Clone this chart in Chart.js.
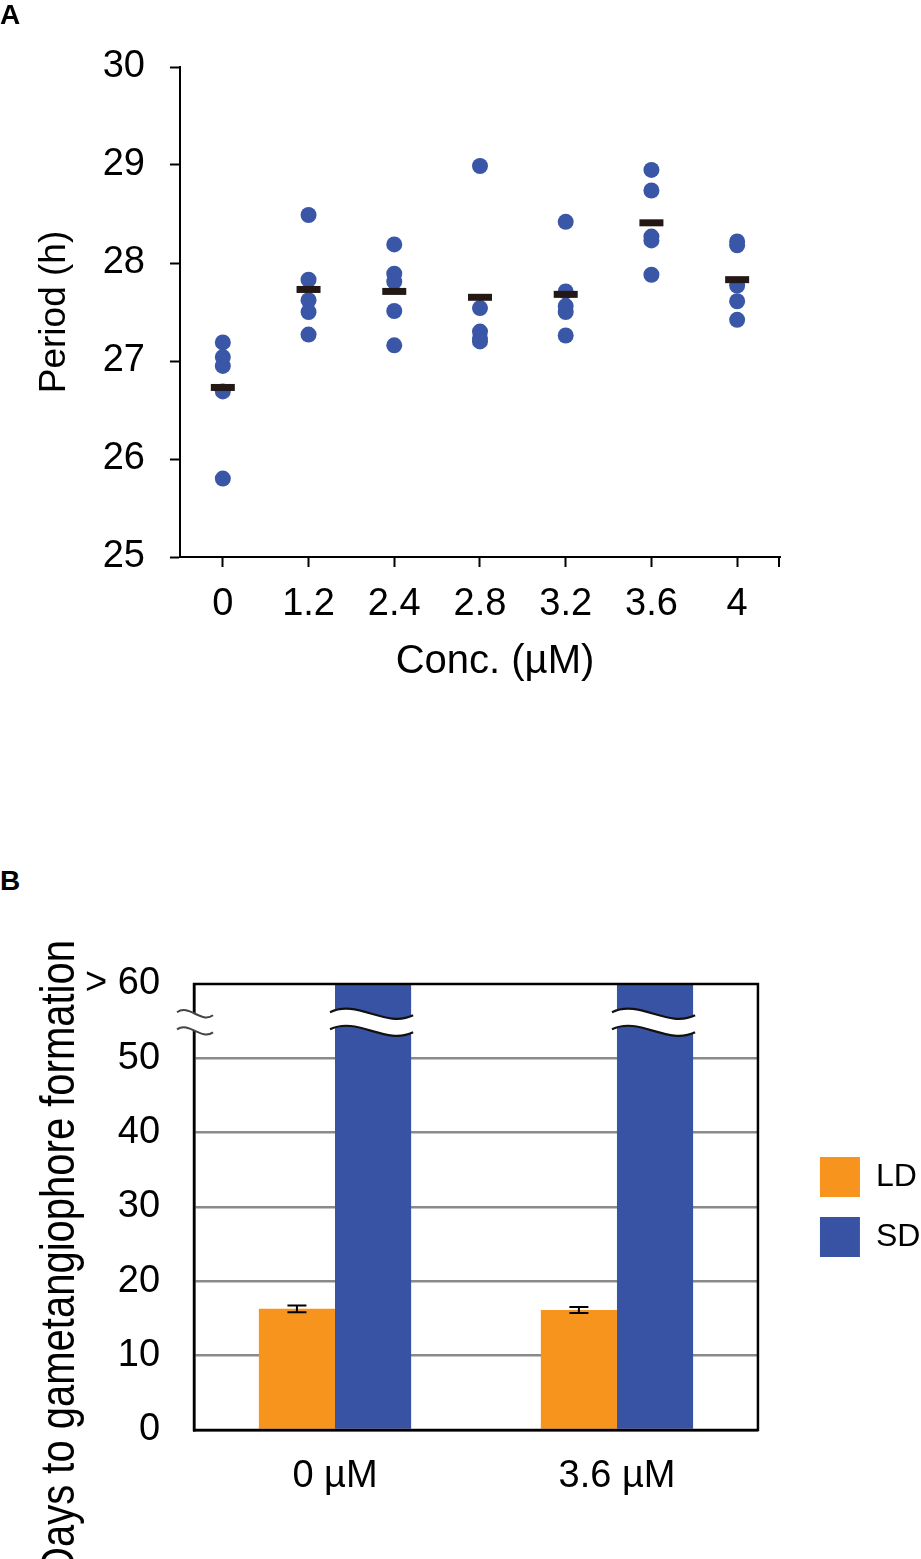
<!DOCTYPE html>
<html><head><meta charset="utf-8">
<script src="https://cdn.jsdelivr.net/npm/chart.js@4.4.1/dist/chart.umd.min.js"></script>
<style>
html,body{margin:0;padding:0;background:#fff;overflow:hidden;width:921px;height:1559px;}
#wrapA{position:absolute;left:0;top:0;width:921px;height:720px;}
#wrapB{position:absolute;left:0;top:900px;width:921px;height:659px;}
.pl{position:absolute;left:0;z-index:5;font-family:"Liberation Sans",Arial,sans-serif;font-weight:bold;font-size:28px;line-height:28px;color:#000;}
</style></head><body>
<div id="wrapA"><canvas id="cA" width="921" height="720"></canvas></div>
<div id="wrapB"><canvas id="cB" width="921" height="659"></canvas></div>
<div class="pl" style="top:1px">A</div>
<div class="pl" style="top:867px">B</div>
<script>
// ---------- Panel A data ----------
const concLabels = ['0', '1.2', '2.4', '2.8', '3.2', '3.6', '4'];
const periodAt0   = [27.19, 27.04, 26.95, 26.69, 25.80];
const periodAt1_2 = [28.49, 27.83, 27.62, 27.50, 27.27];
const periodAt2_4 = [28.19, 27.89, 27.81, 27.51, 27.16];
const periodAt2_8 = [28.99, 27.54, 27.30, 27.23, 27.20];
const periodAt3_2 = [28.42, 27.71, 27.56, 27.50, 27.26];
const periodAt3_6 = [28.95, 28.74, 28.27, 28.23, 27.88];
const periodAt4   = [28.22, 28.18, 27.77, 27.61, 27.42];
const periodMeans = [26.73, 27.73, 27.71, 27.65, 27.68, 28.41, 27.83];
const periodTitle = 'Period (h)';
const concTitle = 'Conc. (\u00b5M)';

// ---------- Panel B data ----------
const groupLabels = ['0 \u00b5M', '3.6 \u00b5M'];
const ldDays = [16.3, 16.15];
const ldErr  = [0.45, 0.40];
const sdDays = [60, 60];           // > 60 days (off-scale, drawn to axis top with break)
const daysTitle = 'Days to gametangiophore formation';

Chart.defaults.font.family = '"Liberation Sans", Arial, sans-serif';
Chart.defaults.color = '#000';

function textPlugin(items){
  return {
    id: 'freeText',
    afterDraw(chart){
      const ctx = chart.ctx;
      items.forEach(it => {
        ctx.save();
        ctx.translate(it.x, it.y);
        if (it.rotate) ctx.rotate(it.rotate);
        if (it.stretch) ctx.scale(1, it.stretch);
        ctx.font = it.size + 'px "Liberation Sans", Arial, sans-serif';
        ctx.fillStyle = '#000';
        ctx.textAlign = it.align || 'center';
        ctx.textBaseline = it.baseline || 'middle';
        ctx.fillText(it.text, 0, 0);
        ctx.restore();
      });
    }
  };
}

// ---------- Chart A ----------
const groupsA = [periodAt0, periodAt1_2, periodAt2_4, periodAt2_8, periodAt3_2, periodAt3_6, periodAt4];
const pointData = [];
groupsA.forEach((vals, i) => vals.forEach(v => pointData.push({x: concLabels[i], y: v})));

const endTick = {
  id: 'endTick',
  afterDraw(chart){
    const xs = chart.scales.x, ctx = chart.ctx;
    ctx.save();
    ctx.strokeStyle = '#000'; ctx.lineWidth = 2;
    ctx.beginPath();
    ctx.moveTo(xs.right - 1, xs.top);
    ctx.lineTo(xs.right - 1, xs.top + 10);
    ctx.stroke();
    ctx.restore();
  }
};

new Chart(document.getElementById('cA'), {
  type: 'line',
  data: {
    labels: concLabels,
    datasets: [
      {label: 'Mean', data: periodMeans, showLine: false, pointStyle: 'line',
       pointRadius: 12, pointBorderWidth: 7, pointBorderColor: '#231815',
       pointBackgroundColor: '#231815', order: 0},
      {label: 'Period', data: pointData, showLine: false, pointStyle: 'circle',
       pointRadius: 8, pointBorderWidth: 0, pointBackgroundColor: '#3a56a7', order: 1}
    ]
  },
  options: {
    responsive: false, animation: false, events: [],
    layout: {padding: {left: 29.4, top: 67, right: 141, bottom: 77}},
    plugins: {legend: {display: false}, tooltip: {enabled: false}},
    scales: {
      x: {
        type: 'category', offset: true,
        grid: {display: true, drawOnChartArea: false, drawTicks: true, tickLength: 10,
               tickWidth: 2, tickColor: '#000', offset: false},
        border: {display: true, color: '#000', width: 2},
        ticks: {font: {size: 38}, color: '#000', padding: 15.2}
      },
      y: {
        min: 25, max: 30,
        ticks: {stepSize: 1, font: {size: 38}, color: '#000', padding: 25},
        grid: {drawOnChartArea: false, tickLength: 10, tickWidth: 2, tickColor: '#000'},
        border: {color: '#000', width: 2},
        title: {display: true, text: periodTitle, font: {size: 37}, color: '#000',
                padding: {top: 3.5, bottom: 0.4}}
      }
    }
  },
  plugins: [endTick, textPlugin([{text: concTitle, x: 495, y: 662, size: 40}])]
});

// ---------- Chart B ----------
const BREAK_UPPER = 56.0, BREAK_LOWER = 53.7;
function wave(ctx, x0, x1, y, c, move){
  const w = x1 - x0;
  if (move) ctx.moveTo(x0, y - 1.5);
  ctx.bezierCurveTo(x0 + w / 3, y - c, x0 + 2 * w / 3, y + c, x1, y + 1.5);
}
function waveBack(ctx, x0, x1, y, c){
  const w = x1 - x0;
  ctx.bezierCurveTo(x0 + 2 * w / 3, y + c, x0 + w / 3, y - c, x0, y - 1.5);
}
function breakBand(ctx, x0, x1, yU, yL, c, color, lw){
  ctx.save();
  ctx.fillStyle = '#fff';
  ctx.beginPath();
  wave(ctx, x0, x1, yU, c, true);
  ctx.lineTo(x1, yL + 1.5);
  waveBack(ctx, x0, x1, yL, c);
  ctx.closePath();
  ctx.fill();
  ctx.strokeStyle = color; ctx.lineWidth = lw;
  ctx.beginPath(); wave(ctx, x0, x1, yU, c, true); ctx.stroke();
  ctx.beginPath(); wave(ctx, x0, x1, yL, c, true); ctx.stroke();
  ctx.restore();
}

const decorB = {
  id: 'decorB',
  afterDatasetsDraw(chart){
    const ctx = chart.ctx, a = chart.chartArea, ys = chart.scales.y;
    // frame
    ctx.save();
    ctx.strokeStyle = '#000'; ctx.lineWidth = 2.5;
    ctx.strokeRect(a.left, a.top, a.right - a.left, a.bottom - a.top);
    ctx.restore();
    // error bars on LD
    const ldMeta = chart.getDatasetMeta(0);
    ctx.save();
    ctx.strokeStyle = '#000'; ctx.lineWidth = 2;
    ldMeta.data.forEach((bar, i) => {
      const yT = ys.getPixelForValue(ldDays[i] + ldErr[i]);
      const yB = ys.getPixelForValue(ldDays[i] - ldErr[i]);
      ctx.beginPath();
      ctx.moveTo(bar.x, yT); ctx.lineTo(bar.x, yB);
      ctx.moveTo(bar.x - 9.5, yT); ctx.lineTo(bar.x + 9.5, yT);
      ctx.moveTo(bar.x - 9.5, yB); ctx.lineTo(bar.x + 9.5, yB);
      ctx.stroke();
    });
    ctx.restore();
    // breaks on SD bars
    const yU = ys.getPixelForValue(BREAK_UPPER), yL = ys.getPixelForValue(BREAK_LOWER);
    chart.getDatasetMeta(1).data.forEach(bar => {
      breakBand(ctx, bar.x - bar.width / 2 - 5, bar.x + bar.width / 2 + 2, yU, yL, 15, '#111', 2.2);
    });
    // break on y axis
    breakBand(ctx, a.left - 17, a.left + 19, yU, yL, 10, '#444', 2);
  }
};

const shiftLegend = {
  id: 'shiftLegend',
  afterLayout(chart){
    const lg = chart.legend;
    if (lg) { lg.left += 42; lg.right += 42; }
  }
};

new Chart(document.getElementById('cB'), {
  type: 'bar',
  data: {
    labels: groupLabels,
    datasets: [
      {label: 'LD', data: ldDays, backgroundColor: '#f7941e', borderWidth: 0},
      {label: 'SD', data: sdDays, backgroundColor: '#3953a4', borderWidth: 0}
    ]
  },
  options: {
    responsive: false, animation: false, events: [],
    datasets: {bar: {barPercentage: 1, categoryPercentage: 0.54}},
    layout: {padding: {left: 51, top: 84, right: 32.6, bottom: 35.4}},
    plugins: {
      legend: {position: 'right', fullSize: false,
               labels: {boxWidth: 40, boxHeight: 40, padding: 20, font: {size: 32}, color: '#000'}},
      tooltip: {enabled: false}
    },
    scales: {
      x: {
        grid: {display: false, drawTicks: false},
        border: {display: true, color: '#000', width: 2.5},
        ticks: {font: {size: 38}, color: '#000', padding: 24}
      },
      y: {
        min: 0, max: 60,
        ticks: {stepSize: 10, font: {size: 38}, color: '#000', padding: 34,
                callback: v => (v === 60 ? '> 60' : v)},
        grid: {drawTicks: false, lineWidth: 2.5,
               color: c => (c.tick && (c.tick.value === 0 || c.tick.value === 60)) ? 'rgba(0,0,0,0)' : '#8a8a8a'},
        border: {color: '#000', width: 2.5}
      }
    }
  },
  plugins: [decorB, shiftLegend,
    textPlugin([{text: daysTitle, x: 74, y: 40, size: 40, rotate: -Math.PI / 2,
                 stretch: 1.2, align: 'right', baseline: 'alphabetic'}])]
});
</script>
</body></html>
